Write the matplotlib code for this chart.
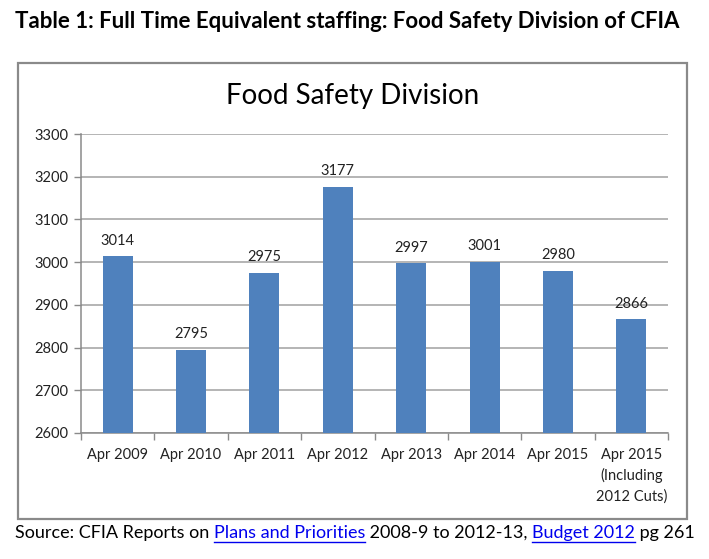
#Import libraries
import matplotlib
matplotlib.use('Agg')
import matplotlib.pyplot as plt
from matplotlib.patches import Rectangle
from matplotlib.lines import Line2D

#--------------------------Data------------------------------------------#
categories = ['Apr 2009', 'Apr 2010', 'Apr 2011', 'Apr 2012', 'Apr 2013',
              'Apr 2014', 'Apr 2015', 'Apr 2015\n(Including\n2012 Cuts)']
fte = [3014, 2795, 2975, 3177, 2997, 3001, 2980, 2866]
y_ticks = [2600, 2700, 2800, 2900, 3000, 3100, 3200, 3300]

page_title = 'Table 1: Full Time Equivalent staffing: Food Safety Division of CFIA'
chart_title = 'Food Safety Division'
# (text, is_link)
source_parts = [('Source: CFIA Reports on ', False),
                ('Plans and Priorities', True),
                (' 2008-9 to 2012-13, ', False),
                ('Budget 2012', True),
                (' pg 261', False)]

#--------------------------Plot------------------------------------------#
plt.rcParams['font.family'] = ['Lato', 'DejaVu Sans']
W, H = 709, 559
fig = plt.figure(figsize=(W / 100, H / 100), dpi=100)

#Outer chart box
fig.patches.append(Rectangle((18 / W, 1 - 519 / H), (687 - 18) / W, (519 - 63) / H,
                             transform=fig.transFigure, fill=False,
                             edgecolor='#8a8a8a', linewidth=1.6))

ax = fig.add_axes([81 / W, 1 - 433 / H, (668 - 81) / W, (433 - 134) / H])
x = list(range(len(categories)))
ax.bar(x, fte, width=0.41, color='#4F81BD', zorder=3)
for xi, v in zip(x, fte):
    ax.text(xi, v + 20, str(v), ha='center', va='bottom', fontsize=10.5, color='#222222')

ax.set_xlim(-0.5, len(categories) - 0.5)
ax.set_ylim(y_ticks[0], y_ticks[-1])
ax.set_yticks(y_ticks)
ax.set_yticklabels([str(t) for t in y_ticks], fontsize=10.5, color='#222222')
ax.set_xticks([i - 0.5 for i in range(len(categories) + 1)])
ax.set_xticklabels([])
ax.set_xticks(x, minor=True)
ax.set_xticklabels(categories, minor=True, fontsize=10.5, color='#222222',
                   linespacing=1.5, va='top')
ax.tick_params(axis='x', which='minor', length=0, pad=11)
ax.tick_params(axis='x', which='major', length=5, color='#8a8a8a', width=1)
ax.tick_params(axis='y', length=5, color='#8a8a8a', width=1, pad=4)
ax.grid(axis='y', color='#a0a0a0', linewidth=1.1, zorder=0)
for s in ['top', 'right']:
    ax.spines[s].set_visible(False)
for s in ['left', 'bottom']:
    ax.spines[s].set_color('#8a8a8a')
    ax.spines[s].set_linewidth(1.1)

#Titles
fig.text(15 / W, 1 - 22 / H, page_title, ha='left', va='center',
         fontsize=16, fontweight='bold', color='black')
fig.text(353 / W, 1 - 96 / H, chart_title, ha='center', va='center',
         fontsize=20, color='black')

#Source line with link segments
renderer = fig.canvas.get_renderer()
xpos = 15
ybase = 1 - 538 / H
for txt, link in source_parts:
    t = fig.text(xpos / W, ybase, txt, ha='left', va='baseline', fontsize=13,
                 color='#0000EE' if link else 'black')
    bb = t.get_window_extent(renderer)
    if link:
        fig.lines.append(Line2D([bb.x0 / W, bb.x1 / W], [ybase - 4 / H, ybase - 4 / H],
                                transform=fig.transFigure, color='#0000EE', linewidth=1))
    xpos = bb.x1

fig.savefig('out.png', dpi=100)
